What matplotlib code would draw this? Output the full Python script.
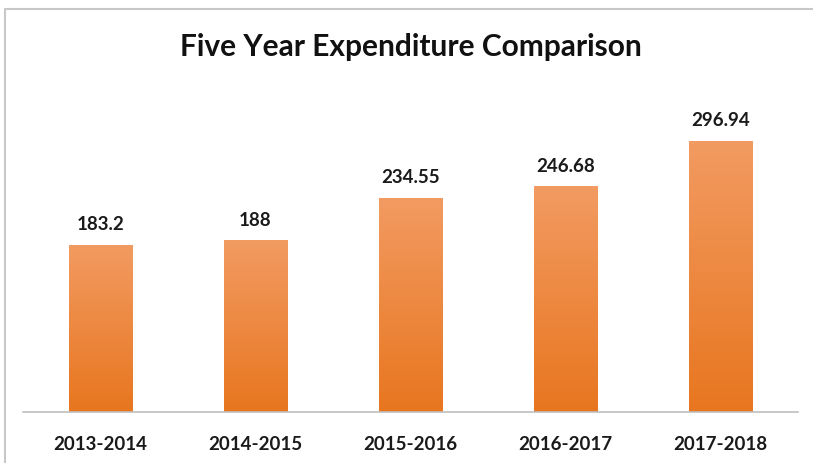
import numpy as np
import matplotlib
matplotlib.use('Agg')
import matplotlib.pyplot as plt
from matplotlib.lines import Line2D
from matplotlib.colors import LinearSegmentedColormap

# data
years = ['2013-2014', '2014-2015', '2015-2016', '2016-2017', '2017-2018']
spend = [183.2, 188, 234.55, 246.68, 296.94]
spend_labels = ['183.2', '188', '234.55', '246.68', '296.94']

plt.rcParams['font.family'] = ['Lato', 'DejaVu Sans']

fig = plt.figure(figsize=(8.13, 4.63), dpi=100)
ax = fig.add_axes([0.0283, 0.1102, 0.9532, 0.691])

grad = LinearSegmentedColormap.from_list('orng', ['#E8761F', '#F29B62'])
ymax = 350

bars = ax.bar(range(len(years)), spend, width=0.41, color='none', edgecolor='none')
for b in bars:
    x0, w, h = b.get_x(), b.get_width(), b.get_height()
    img = ax.imshow(np.linspace(0, 1, 256).reshape(-1, 1), cmap=grad, origin='lower',
                    extent=[x0, x0 + w, 0, h], aspect='auto', zorder=2)
    img.set_clip_path(b)

for i, lab in enumerate(spend_labels):
    ax.annotate(lab, (i, spend[i]), xytext=(0, 8), textcoords='offset points',
                ha='center', va='bottom', fontsize=13.5, fontweight='bold', color='#1a1a1a')

ax.set_xlim(-0.5, len(years) - 0.5)
ax.set_ylim(0, ymax)
ax.set_xticks(range(len(years)))
ax.set_xticklabels(years, fontsize=13.5, fontweight='bold', color='#1a1a1a')
ax.tick_params(axis='x', length=0, pad=17)
ax.set_yticks([])
for s in ['top', 'left', 'right']:
    ax.spines[s].set_visible(False)
ax.spines['bottom'].set_color('#BFBFBF')
ax.spines['bottom'].set_linewidth(1.2)

fig.text(0.505, 0.898, 'Five Year Expenditure Comparison', ha='center', va='center',
         fontsize=21.5, fontweight='bold', color='#111111')

# outer chart frame (only left and top edges fall inside the picture)
fx, fy = 4.5 / 813, 1 - 8.5 / 463
fig.add_artist(Line2D([fx, fx, 1.02], [-0.02, fy, fy], transform=fig.transFigure,
                      color='#C8C8C8', linewidth=1.5, clip_on=False))

fig.savefig('out.png', dpi=100, facecolor='white')
